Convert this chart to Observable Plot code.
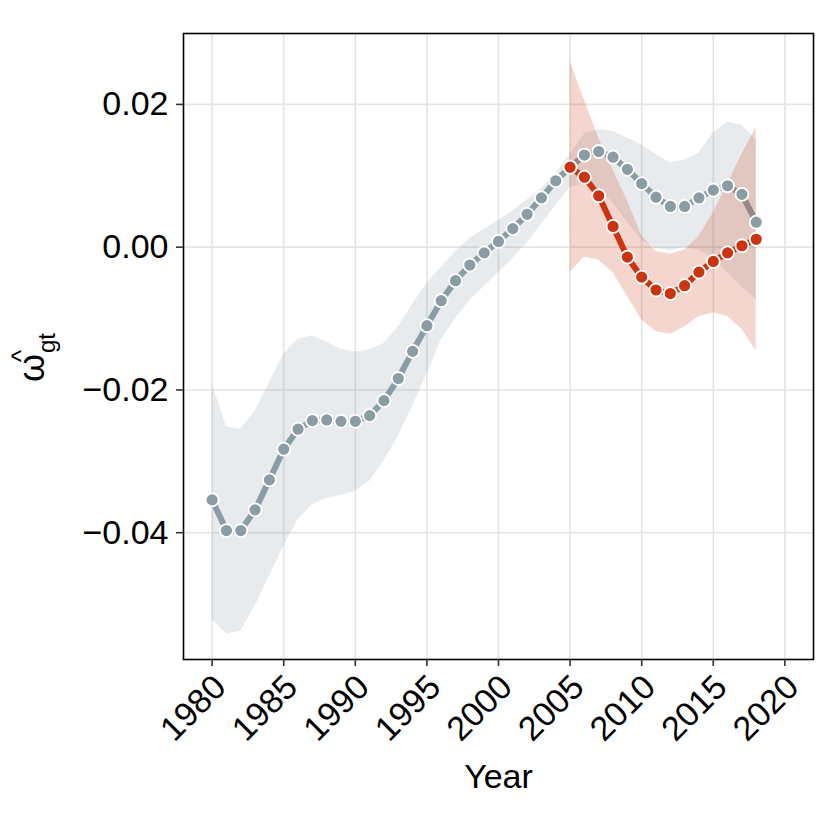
<!DOCTYPE html>
<html>
<head>
<meta charset="utf-8">
<script src="https://cdn.jsdelivr.net/npm/d3@7"></script>
<script src="https://cdn.jsdelivr.net/npm/@observablehq/plot@0.6"></script>
<style>
  html, body { margin: 0; padding: 0; background: white; }
  #chart { width: 830px; height: 830px; }
</style>
</head>
<body>
<div id="chart"></div>
<script>
// ---- data ----
const greyYears = [1980,1981,1982,1983,1984,1985,1986,1987,1988,1989,
                   1990,1991,1992,1993,1994,1995,1996,1997,1998,1999,
                   2000,2001,2002,2003,2004,2005,2006,2007,2008,2009,
                   2010,2011,2012,2013,2014,2015,2016,2017,2018];
const greyMean = [-0.0354,-0.0397,-0.0397,-0.0368,-0.0326,-0.0283,-0.0255,-0.0243,-0.0242,-0.0244,
                  -0.0244,-0.0236,-0.0215,-0.0184,-0.0146,-0.0110,-0.0075,-0.0047,-0.0025,-0.0008,
                   0.0008, 0.0026, 0.0046, 0.0069, 0.0093, 0.0112, 0.0129, 0.0134, 0.0126, 0.0109,
                   0.0089, 0.0070, 0.0057, 0.0057, 0.0069, 0.0080, 0.0086, 0.0074, 0.0035];
const greyUpper = [-0.0191,-0.0252,-0.0255,-0.0230,-0.0190,-0.0150,-0.0129,-0.0124,-0.0133,-0.0143,
                   -0.0147,-0.0144,-0.0135,-0.0112,-0.0080,-0.0051,-0.0028,-0.0006, 0.0012, 0.0025,
                    0.0037, 0.0051, 0.0066, 0.0082, 0.0103, 0.0130, 0.0158, 0.0165, 0.0162, 0.0153,
                    0.0143, 0.0130, 0.0118, 0.0122, 0.0132, 0.0160, 0.0175, 0.0171, 0.0150];
const greyLower = [-0.0522,-0.0542,-0.0538,-0.0503,-0.0461,-0.0419,-0.0382,-0.0361,-0.0352,-0.0348,
                   -0.0342,-0.0328,-0.0300,-0.0265,-0.0223,-0.0178,-0.0130,-0.0100,-0.0075,-0.0055,
                   -0.0036,-0.0016, 0.0006, 0.0032, 0.0058, 0.0084, 0.0088, 0.0082, 0.0062, 0.0035,
                    0.0010,-0.0002,-0.0005, 0.0000,-0.0004,-0.0015,-0.0035,-0.0055,-0.0074];

const redYears = [2005,2006,2007,2008,2009,2010,2011,2012,2013,2014,2015,2016,2017,2018];
const redMean  = [0.0112, 0.0098, 0.0072, 0.0029,-0.0014,-0.0042,-0.0060,-0.0065,-0.0054,-0.0035,-0.0020,-0.0008, 0.0002, 0.0011];
const redUpper = [0.0260, 0.0206, 0.0153, 0.0108, 0.0065, 0.0016,-0.0006,-0.0010,-0.0004, 0.0015, 0.0048, 0.0088, 0.0130, 0.0168];
const redLower = [-0.0035,-0.0014,-0.0018,-0.0036,-0.0069,-0.0102,-0.0118,-0.0122,-0.0112,-0.0097,-0.0092,-0.0097,-0.0115,-0.0145];

const xTicks = [1980,1985,1990,1995,2000,2005,2010,2015,2020];
const yTicks = [-0.04,-0.02,0.00,0.02];
const xLabel = "Year";

const greyColor = "#8A9DA4";
const redColor = "#CC3311";

const grey = greyYears.map((year, i) => ({year, mean: greyMean[i], lo: greyLower[i], hi: greyUpper[i]}));
const red  = redYears.map((year, i) => ({year, mean: redMean[i], lo: redLower[i], hi: redUpper[i]}));

const fmtY = d => (d < 0 ? "\u2212" : "") + Math.abs(d).toFixed(2);
const fmtX = d => String(d);

const chart = Plot.plot({
  width: 830,
  height: 830,
  marginLeft: 183,
  marginRight: 17,
  marginTop: 33,
  marginBottom: 171,
  x: {domain: [1978, 2022]},
  y: {domain: [-0.05776, 0.02993]},
  style: {fontFamily: "'Liberation Sans', Arial, Helvetica, sans-serif", background: "white", color: "black"},
  marks: [
    Plot.gridX(xTicks, {stroke: "#e4e4e4", strokeOpacity: 1, strokeWidth: 1.6}),
    Plot.gridY(yTicks, {stroke: "#e4e4e4", strokeOpacity: 1, strokeWidth: 1.6}),
    Plot.areaY(grey, {x: "year", y1: "lo", y2: "hi", fill: greyColor, fillOpacity: 0.2}),
    Plot.line(grey, {x: "year", y: "mean", stroke: greyColor, strokeWidth: 6}),
    Plot.areaY(red, {x: "year", y1: "lo", y2: "hi", fill: redColor, fillOpacity: 0.2}),
    Plot.line(red, {x: "year", y: "mean", stroke: redColor, strokeWidth: 6}),
    Plot.dot(grey, {x: "year", y: "mean", r: 6.5, fill: greyColor, stroke: "white", strokeWidth: 1.8}),
    Plot.dot(red, {x: "year", y: "mean", r: 6.5, fill: redColor, stroke: "white", strokeWidth: 1.8}),
    Plot.frame({stroke: "black", strokeWidth: 1.6}),
    // x tick marks only
    Plot.axisX(xTicks, {tickFormat: () => "", tickSize: 7, stroke: "#333", strokeWidth: 1.6, label: null}),
    // x tick labels only, rotated
    Plot.axisX(xTicks, {tickFormat: fmtX, tickSize: 0, tickPadding: 11, tickRotate: -45, fontSize: 34, dx: 8, dy: 11, fill: "black", label: null}),
    Plot.axisY(yTicks, {tickFormat: fmtY, fontSize: 34, tickSize: 7, tickPadding: 8, stroke: "#333", strokeWidth: 1.6, fill: "black", label: null}),
    Plot.text([xLabel], {frameAnchor: "bottom", dy: 118, fontSize: 34, fill: "black", lineAnchor: "middle"})
  ]
});

document.getElementById("chart").appendChild(chart);

// y-axis title: omega-hat with subscript gt, rotated
const svg = d3.select(chart);
const g = svg.append("g")
  .attr("transform", "translate(44,368) rotate(-90)")
  .attr("font-family", "'Liberation Sans', Arial, Helvetica, sans-serif")
  .attr("fill", "black");
g.append("text").attr("x", 0).attr("y", 0).attr("font-size", 36).text("\u03C9");
g.append("text").attr("x", 12).attr("y", -14).attr("font-size", 26).attr("text-anchor", "middle").text("^");
g.append("text").attr("x", 25).attr("y", 11).attr("font-size", 24).text("gt");
</script>
</body>
</html>
